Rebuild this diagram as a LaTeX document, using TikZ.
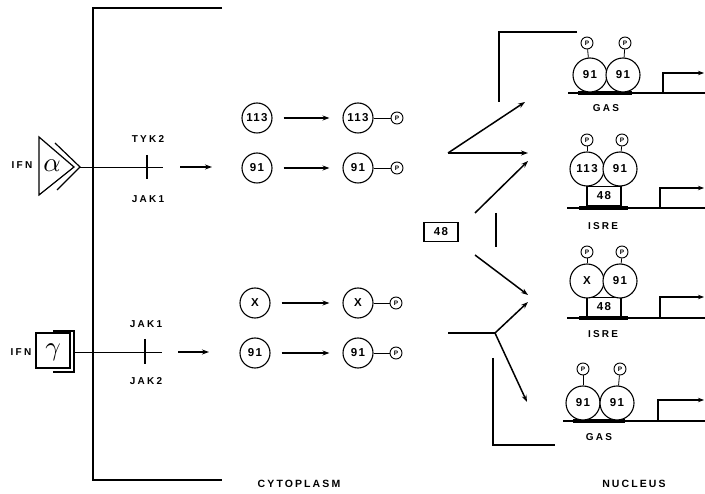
\documentclass[tikz,border=0pt]{standalone}
\usepackage{fontspec}
\setsansfont{Liberation Sans}
\usetikzlibrary{arrows.meta}
\begin{document}
\begin{tikzpicture}[x=1pt,y=-1pt,
  lbl/.style={font=\sffamily\bfseries\fontsize{10}{10}\selectfont\addfontfeatures{LetterSpace=22}, inner sep=0},
  big/.style={font=\sffamily\bfseries\fontsize{10.5}{10.5}\selectfont\addfontfeatures{LetterSpace=20}, inner sep=0},
  greek/.style={inner sep=0, scale=2.7},
  prot/.style={circle, draw, line width=1.1pt, minimum size=30pt, inner sep=0, font=\sffamily\bfseries\fontsize{11.5}{11.5}\selectfont\addfontfeatures{LetterSpace=12}},
  nprot/.style={prot, minimum size=34pt, fill=white},
  pcirc/.style={circle, draw, line width=0.9pt, minimum size=12pt, inner sep=0, fill=white, font=\sffamily\bfseries\fontsize{6.5}{6.5}\selectfont},
  box48/.style={draw, line width=1.1pt, minimum width=34pt, minimum height=19pt, inner sep=0, font=\sffamily\bfseries\fontsize{11.5}{11.5}\selectfont\addfontfeatures{LetterSpace=12}},
  arr/.style={-{Stealth[length=7pt,width=5pt]}, line width=1.5pt},
  carr/.style={arr, shorten <=11pt, shorten >=13pt},
  mem/.style={line width=1.8pt},
  thin/.style={line width=0.9pt},
  dna/.style={line width=1.4pt},
  elem/.style={line width=4pt},
  tx/.style={-{Stealth[length=6pt,width=4.5pt]}, line width=1.3pt},
  stalk/.style={line width=0.8pt}
]
\useasboundingbox (0,0) rectangle (705,494);

% cell membrane
\draw[mem] (222,8) -- (93,8) -- (93,480) -- (222,480);

% IFN alpha receptor
\node[lbl] (ifna) at (22,165) {IFN};
\coordinate (aT) at (39,137); \coordinate (aB) at (39,195); \coordinate (aA) at (74,167);
\draw[line width=1.2pt, line join=miter] (aT) -- (aA) -- (aB) -- cycle;
\coordinate (oT) at (55,143); \coordinate (oA) at (80,167); \coordinate (oB) at (57,190);
\draw[line width=1.2pt] (oT) -- (oA) -- (oB);
\node[greek] (alpha) at (52,166) {$\alpha$};
\coordinate (aEnd) at (163,167);
\draw[thin] (oA) -- (aEnd);
\coordinate (tkT) at (147,155); \coordinate (tkB) at (147,179);
\draw[line width=1.1pt] (tkT) -- (tkB);
\node[lbl] (tyk2) at (148,139) {TYK2};
\node[lbl] (jak1a) at (148,199) {JAK1};
\coordinate (a1s) at (180,167); \coordinate (a1e) at (212,167);
\draw[arr] (a1s) -- (a1e);

% IFN gamma receptor
\node[lbl] (ifng) at (21,352) {IFN};
\draw[line width=1.2pt] (36,333) rectangle (70,368);
\draw[line width=1.2pt] (53,331) -- (74,331) -- (74,372) -- (53,372);
\node[greek] (gamma) at (53,352) {$\gamma$};
\coordinate (gS) at (74,352); \coordinate (gEnd) at (162,352);
\draw[thin] (gS) -- (gEnd);
\coordinate (tk2T) at (145,339); \coordinate (tk2B) at (145,364);
\draw[line width=1.1pt] (tk2T) -- (tk2B);
\node[lbl] (jak1b) at (146,324) {JAK1};
\node[lbl] (jak2) at (146,381) {JAK2};
\coordinate (a2s) at (178,352); \coordinate (a2e) at (209,352);
\draw[arr] (a2s) -- (a2e);

% cytoplasmic STATs
\node[prot] (s113) at (257,118) {113};
\node[prot] (s113p) at (358,118) {113};
\node[pcirc] (p1) at (397,118) {P};
\draw[carr] (s113) -- (s113p);
\draw[stalk] (s113p) -- (p1);

\node[prot] (s91a) at (257,168) {91};
\node[prot] (s91ap) at (358,168) {91};
\node[pcirc] (p2) at (397,168) {P};
\draw[carr] (s91a) -- (s91ap);
\draw[stalk] (s91ap) -- (p2);

\node[prot] (sx) at (255,303) {X};
\node[prot] (sxp) at (358,303) {X};
\node[pcirc] (p3) at (396,303) {P};
\draw[carr] (sx) -- (sxp);
\draw[stalk] (sxp) -- (p3);

\node[prot] (s91b) at (255,353) {91};
\node[prot] (s91bp) at (358,353) {91};
\node[pcirc] (p4) at (396,353) {P};
\draw[carr] (s91b) -- (s91bp);
\draw[stalk] (s91bp) -- (p4);

% p48
\node[box48] (b48) at (441,232) {48};

% translocation arrows
\coordinate (v1) at (448,153);
\coordinate (t1) at (525,102);
\coordinate (t2) at (528,153);
\draw[arr] (v1) -- (t1);
\draw[arr] (v1) -- (t2);
\coordinate (d2s) at (475,213); \coordinate (d2e) at (528,161);
\draw[arr] (d2s) -- (d2e);
\coordinate (vl1) at (496,213); \coordinate (vl2) at (496,247);
\draw[line width=1.5pt] (vl1) -- (vl2);
\coordinate (d3s) at (475,255); \coordinate (d3e) at (528,295);
\draw[arr] (d3s) -- (d3e);
\coordinate (hs) at (448,333); \coordinate (j) at (495,333);
\draw[line width=1.5pt] (hs) -- (j);
\coordinate (j1) at (528,302); \coordinate (j2) at (527,402);
\draw[arr] (j) -- (j1);
\draw[arr] (j) -- (j2);

% nuclear envelope
\draw[mem] (577,32) -- (499,32) -- (499,102);
\draw[mem] (493,358) -- (493,445) -- (555,445);

% complex 1: GAS (91/91)
\draw[dna] (568,93) -- (705,93);
\draw[elem] (578,93) -- (632,93);
\node[nprot] (c1a) at (590,75) {91};
\node[nprot] (c1b) at (623,75) {91};
\node[pcirc] (c1pa) at (587,43) {P};
\node[pcirc] (c1pb) at (625,43) {P};
\draw[stalk] (c1pa) -- (c1a);
\draw[stalk] (c1pb) -- (c1b);
\coordinate (tx1a) at (663,93); \coordinate (tx1b) at (663,73); \coordinate (tx1c) at (704,73);
\draw[tx] (tx1a) -- (tx1b) -- (tx1c);
\node[lbl] (gas1) at (606,108) {GAS};

% complex 2: ISRE (113/91 + 48)
\draw[dna] (567,208) -- (705,208);
\draw[elem] (579,208) -- (628,208);
\node[box48, fill=white] (c2box) at (604,196) {48};
\node[nprot] (c2a) at (587,169) {113};
\node[nprot] (c2b) at (620,169) {91};
\node[pcirc] (c2pa) at (587,140) {P};
\node[pcirc] (c2pb) at (622,140) {P};
\draw[stalk] (c2pa) -- (c2a);
\draw[stalk] (c2pb) -- (c2b);
\coordinate (tx2a) at (660,208); \coordinate (tx2b) at (660,188); \coordinate (tx2c) at (704,188);
\draw[tx] (tx2a) -- (tx2b) -- (tx2c);
\node[lbl] (isre1) at (603,226) {ISRE};

% complex 3: ISRE (X/91 + 48)
\draw[dna] (567,318) -- (705,318);
\draw[elem] (579,318) -- (628,318);
\node[box48, fill=white] (c3box) at (604,307) {48};
\node[nprot] (c3a) at (587,281) {X};
\node[nprot] (c3b) at (620,281) {91};
\node[pcirc] (c3pa) at (587,252) {P};
\node[pcirc] (c3pb) at (622,252) {P};
\draw[stalk] (c3pa) -- (c3a);
\draw[stalk] (c3pb) -- (c3b);
\coordinate (tx3a) at (660,318); \coordinate (tx3b) at (660,297); \coordinate (tx3c) at (704,297);
\draw[tx] (tx3a) -- (tx3b) -- (tx3c);
\node[lbl] (isre2) at (603,334) {ISRE};

% complex 4: GAS (91/91)
\draw[dna] (563,421) -- (705,421);
\draw[elem] (573,421) -- (625,421);
\node[nprot] (c4a) at (583,403) {91};
\node[nprot] (c4b) at (617,403) {91};
\node[pcirc] (c4pa) at (583,369) {P};
\node[pcirc] (c4pb) at (620,369) {P};
\draw[stalk] (c4pa) -- (c4a);
\draw[stalk] (c4pb) -- (c4b);
\coordinate (tx4a) at (658,421); \coordinate (tx4b) at (658,400); \coordinate (tx4c) at (704,400);
\draw[tx] (tx4a) -- (tx4b) -- (tx4c);
\node[lbl] (gas2) at (599,437) {GAS};

% compartment labels
\node[big] (cyto) at (299,484) {CYTOPLASM};
\node[big] (nuc) at (634,484) {NUCLEUS};
\end{tikzpicture}
\end{document}
